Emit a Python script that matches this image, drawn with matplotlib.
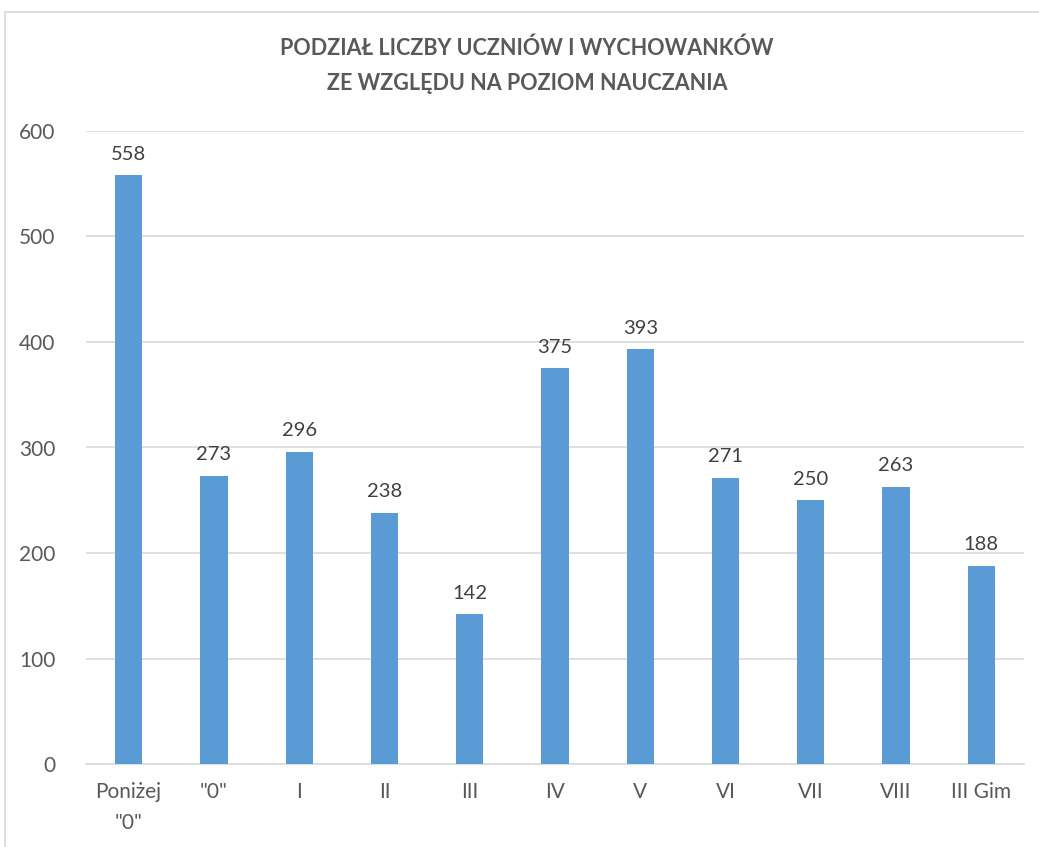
import matplotlib.pyplot as plt
from matplotlib.patches import Rectangle

categories = ['Poniżej\n"0"', '"0"', 'I', 'II', 'III', 'IV', 'V', 'VI', 'VII', 'VIII', 'III Gim']
values = [558, 273, 296, 238, 142, 375, 393, 271, 250, 263, 188]

plt.rcParams['font.family'] = ['Lato', 'DejaVu Sans']
text_col = '#595959'

fig = plt.figure(figsize=(10.39, 8.47), dpi=100)
fig.patches.append(Rectangle((5 / 1039, -0.1), 1.2, 1 - 12 / 847 + 0.1, transform=fig.transFigure,
                             facecolor='none', edgecolor='#D9D9D9', linewidth=1.2))

ax = fig.add_axes([86 / 1039, 83 / 847, 938 / 1039, 633 / 847])
x = range(len(categories))
bars = ax.bar(x, values, width=0.32, color='#5B9BD5', zorder=3)
for xi, v in zip(x, values):
    ax.text(xi, v + 12, str(v), ha='center', va='bottom', fontsize=14.5, color='#404040')

ax.set_ylim(0, 600)
ax.set_xlim(-0.5, len(categories) - 0.5)
ax.set_yticks(range(0, 601, 100))
ax.set_xticks(list(x))
ax.set_xticklabels(categories, fontsize=15, color=text_col, linespacing=1.7)
ax.tick_params(axis='y', labelsize=15, labelcolor=text_col, length=0, pad=22)
ax.tick_params(axis='x', length=0, pad=13)
ax.yaxis.grid(True, color='#D9D9D9', linewidth=1.2, zorder=0)
for s in ['top', 'right', 'left']:
    ax.spines[s].set_visible(False)
ax.spines['bottom'].set_color('#D9D9D9')
ax.spines['bottom'].set_linewidth(1.2)

fig.text(527 / 1039, 1 - 66 / 847, 'PODZIAŁ LICZBY UCZNIÓW I WYCHOWANKÓW\nZE WZGLĘDU NA POZIOM NAUCZANIA',
         ha='center', va='center', fontsize=15.5, fontweight='bold', color=text_col, linespacing=1.85)

fig.savefig('out.png', dpi=100)
